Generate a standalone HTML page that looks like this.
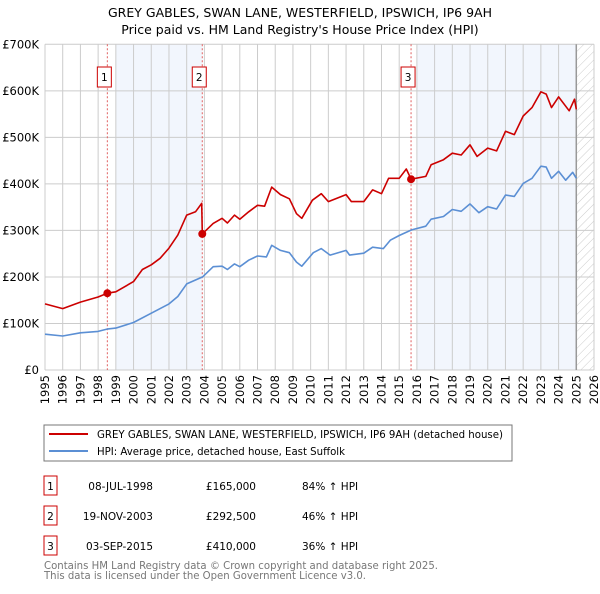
<!DOCTYPE html>
<html><head><meta charset="utf-8"><style>
body{margin:0;background:#fff;font-family:"DejaVu Sans","Liberation Sans",sans-serif;}
</style></head><body>
<svg id="c" width="600" height="590" xmlns="http://www.w3.org/2000/svg" style="font-family:'DejaVu Sans','Liberation Sans',sans-serif">
<defs><pattern id="hatch" width="6" height="6" patternUnits="userSpaceOnUse" patternTransform="rotate(45)"><line x1="0" y1="0" x2="0" y2="6" stroke="#ccc" stroke-width="1"/></pattern></defs>
<text x="300" y="17" text-anchor="middle" font-size="12.5">GREY GABLES, SWAN LANE, WESTERFIELD, IPSWICH, IP6 9AH</text>
<text x="300" y="34" text-anchor="middle" font-size="12.5">Price paid vs. HM Land Registry's House Price Index (HPI)</text>
<g id="plot"></g>
<rect x="44" y="425" width="468" height="36" fill="#fff" stroke="#777"/>
<line x1="49" y1="434" x2="88" y2="434" stroke="#cc0000" stroke-width="2"/>
<text x="97" y="438" font-size="10.2" textLength="406" lengthAdjust="spacingAndGlyphs">GREY GABLES, SWAN LANE, WESTERFIELD, IPSWICH, IP6 9AH (detached house)</text>
<line x1="49" y1="451" x2="88" y2="451" stroke="#5b8fd4" stroke-width="2"/>
<text x="97" y="455" font-size="10.2" textLength="248" lengthAdjust="spacingAndGlyphs">HPI: Average price, detached house, East Suffolk</text>
<g id="table" font-size="10.5"></g>
<text x="44" y="569" font-size="10.5" fill="#777" textLength="394" lengthAdjust="spacingAndGlyphs">Contains HM Land Registry data © Crown copyright and database right 2025.</text>
<text x="44" y="579" font-size="10.5" fill="#777" textLength="322" lengthAdjust="spacingAndGlyphs">This data is licensed under the Open Government Licence v3.0.</text>
</svg>
<script>
const yearTicks=[1995,1996,1997,1998,1999,2000,2001,2002,2003,2004,2005,2006,2007,2008,2009,2010,2011,2012,2013,2014,2015,2016,2017,2018,2019,2020,2021,2022,2023,2024,2025,2026];
const priceTicks=[0,100000,200000,300000,400000,500000,600000,700000];
const priceTickLabels=["£0","£100K","£200K","£300K","£400K","£500K","£600K","£700K"];
const hpiYears=[1995,1996,1997,1998,1998.5,1999,2000,2001,2002,2002.5,2003,2003.9,2004.5,2005,2005.3,2005.7,2006,2006.5,2007,2007.5,2007.8,2008.3,2008.8,2009.2,2009.5,2010.15,2010.6,2011.1,2012,2012.2,2013,2013.5,2014.1,2014.5,2015,2015.7,2016.5,2016.8,2017.5,2018,2018.5,2019,2019.5,2020,2020.5,2021,2021.5,2022,2022.5,2023,2023.3,2023.6,2024,2024.4,2024.8,2025];
const hpiValues=[77000,73000,80000,83000,88000,90000,102000,122000,142000,158000,185000,200000,222000,223000,216000,228000,222000,236000,245000,243000,268000,257000,252000,232000,223000,252000,261000,247000,257000,247000,251000,264000,261000,279000,289000,301000,309000,324000,330000,345000,341000,357000,338000,351000,346000,376000,373000,401000,412000,438000,436000,412000,427000,408000,425000,412000];
const propYears=[1995,1996,1997,1998,1998.52,1999,2000,2000.5,2001,2001.5,2002,2002.5,2003,2003.5,2003.85,2003.88,2004.5,2005,2005.3,2005.7,2006,2006.5,2007,2007.4,2007.8,2008.3,2008.8,2009.2,2009.5,2010.1,2010.6,2011,2012,2012.3,2013,2013.5,2014,2014.4,2015,2015.4,2015.67,2016.5,2016.8,2017.5,2018,2018.5,2019,2019.4,2020,2020.5,2021,2021.5,2022,2022.5,2023,2023.3,2023.6,2024,2024.6,2024.9,2025];
const propValues=[142000,132000,146000,157000,165000,168000,190000,216000,226000,240000,262000,290000,333000,340000,358000,292500,315000,326000,316000,333000,324000,340000,354000,352000,393000,377000,368000,336000,326000,365000,379000,362000,377000,362000,362000,387000,379000,412000,412000,432000,410000,416000,441000,452000,466000,462000,484000,459000,477000,471000,513000,506000,546000,564000,598000,593000,564000,587000,557000,582000,560000];
const saleYears=[1998.52,2003.88,2015.67];
const salePrices=[165000,292500,410000];
const saleLabels=["1","2","3"];
const saleDates=["08-JUL-1998","19-NOV-2003","03-SEP-2015"];
const salePriceText=["£165,000","£292,500","£410,000"];
const saleHpiText=["84% ↑ HPI","46% ↑ HPI","36% ↑ HPI"];

const X0=45,X1=594,Y0=370,Y1=44.3;
const xs=y=>X0+(y-1995)/(2026-1995)*(X1-X0);
const ys=v=>Y0-v/700000*(Y0-Y1);
const NS="http://www.w3.org/2000/svg";
function mk(tag,attrs,parent,txt){const e=document.createElementNS(NS,tag);for(const k in attrs)e.setAttribute(k,attrs[k]);if(txt!=null)e.textContent=txt;parent.appendChild(e);return e;}
const plot=document.getElementById('plot');
let s1=mk('rect',{x:xs(1999),y:Y1,width:xs(saleYears[1])-xs(1999),height:Y0-Y1,fill:'#f2f6fd'},plot);


let s2=mk('rect',{x:xs(2016),y:Y1,width:xs(2025)-xs(2016),height:Y0-Y1,fill:'#f2f6fd'},plot);


let hz=mk('rect',{x:xs(2025),y:Y1,width:X1-xs(2025),height:Y0-Y1,fill:'url(#hatch)'},plot);


yearTicks.forEach(t=>{const l=mk('line',{x1:xs(t),x2:xs(t),y1:Y1,y2:Y0,stroke:'#ccc','stroke-width':1},plot);


const tx=mk('text',{x:0,y:0,'font-size':11.5,'text-anchor':'end',transform:`translate(${xs(t)+4},${Y0+5}) rotate(-90)`},plot,String(t));

});
priceTicks.forEach((t,i)=>{const l=mk('line',{x1:X0,x2:X1,y1:ys(t),y2:ys(t),stroke:'#ccc','stroke-width':1},plot);


const tx=mk('text',{x:X0-6,y:ys(t)+4,'font-size':11.5,'text-anchor':'end'},plot,priceTickLabels[i]);

});
let nl=mk('line',{x1:xs(2025),x2:xs(2025),y1:Y1,y2:Y0,stroke:'#999','stroke-width':1.5},plot);


saleYears.forEach((sy,i)=>{const l=mk('line',{x1:xs(sy),x2:xs(sy),y1:Y1,y2:Y0,stroke:'#e06060','stroke-width':1,'stroke-dasharray':'2,2'},plot);


const b=mk('rect',{x:xs(sy)-10,y:67,width:14,height:20,fill:'#fff',stroke:'#cc0000'},plot);


const t=mk('text',{x:xs(sy)-3,y:81,'font-size':10.5,'text-anchor':'middle'},plot,saleLabels[i]);

});
function line(yrs,vals,col,name){const d=yrs.map((y,i)=>(i?'L':'M')+xs(y).toFixed(1)+','+ys(vals[i]).toFixed(1)).join('');
const p=mk('path',{d:d,fill:'none',stroke:col,'stroke-width':1.6,'stroke-linejoin':'round'},plot);

}
line(hpiYears,hpiValues,'#5b8fd4','hpi-line');
line(propYears,propValues,'#cc0000','property-price-line');
saleYears.forEach((sy,i)=>{const c=mk('circle',{cx:xs(sy),cy:ys(salePrices[i]),r:4,fill:'#cc0000'},plot);

});
const tb=document.getElementById('table');
saleLabels.forEach((lab,i)=>{const y=476+i*30;
const b=mk('rect',{x:44,y:y,width:13,height:19,fill:'#fff',stroke:'#cc0000'},tb);


const t0=mk('text',{x:50.5,y:y+14,'text-anchor':'middle'},tb,lab);


const t1=mk('text',{x:153,y:y+14,'text-anchor':'end'},tb,saleDates[i]);


const t2=mk('text',{x:256,y:y+14,'text-anchor':'end'},tb,salePriceText[i]);


const t3=mk('text',{x:302,y:y+14},tb,saleHpiText[i]);

});
</script>
</body></html>
